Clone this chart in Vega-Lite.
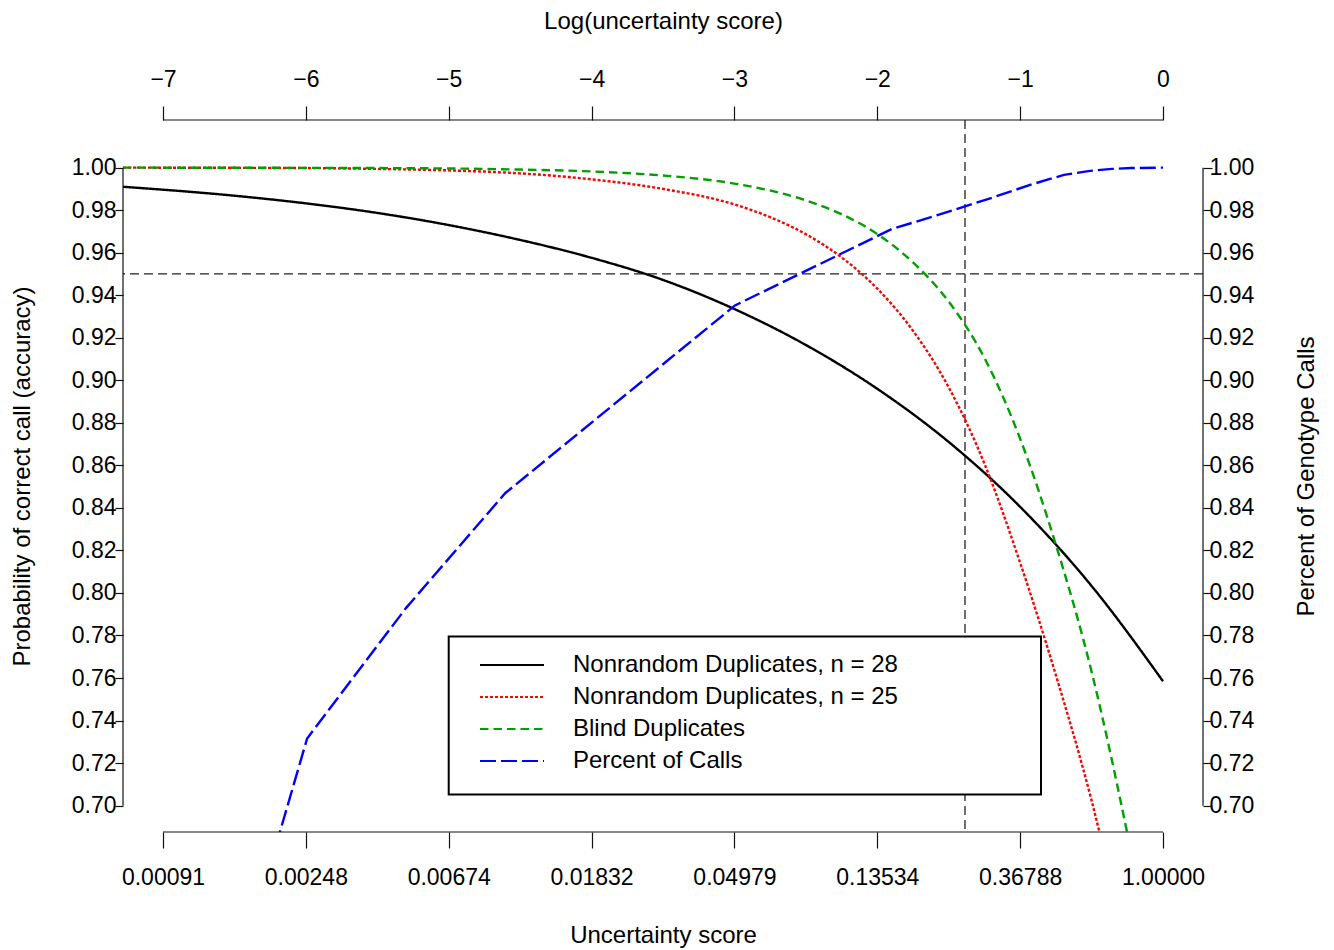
{
  "$schema": "https://vega.github.io/schema/vega-lite/v6.json",
  "width": 1080,
  "height": 712,
  "autosize": {"type": "none"},
  "padding": {"left": 123, "top": 120, "right": 131, "bottom": 118},
  "background": "white",
  "config": {
    "font": "Liberation Sans",
    "view": {"stroke": null},
    "axis": {
      "grid": false,
      "domain": false,
      "labelFont": "Liberation Sans",
      "titleFont": "Liberation Sans",
      "labelFontSize": 23,
      "titleFontSize": 24,
      "titleFontWeight": "normal",
      "labelColor": "black",
      "titleColor": "black",
      "tickColor": "#111",
      "tickWidth": 1.2,
      "labelFlush": false,
      "labelOverlap": false
    }
  },
  "datasets": {
    "curves": [
      {"series": "Nonrandom Duplicates, n = 28", "L": -7.28, "v": 0.991},
      {"series": "Nonrandom Duplicates, n = 28", "L": -6.5, "v": 0.9868},
      {"series": "Nonrandom Duplicates, n = 28", "L": -6.0, "v": 0.9832},
      {"series": "Nonrandom Duplicates, n = 28", "L": -5.5, "v": 0.9787},
      {"series": "Nonrandom Duplicates, n = 28", "L": -5.0, "v": 0.973},
      {"series": "Nonrandom Duplicates, n = 28", "L": -4.5, "v": 0.966},
      {"series": "Nonrandom Duplicates, n = 28", "L": -4.0, "v": 0.9576},
      {"series": "Nonrandom Duplicates, n = 28", "L": -3.5, "v": 0.9472},
      {"series": "Nonrandom Duplicates, n = 28", "L": -3.0, "v": 0.9335},
      {"series": "Nonrandom Duplicates, n = 28", "L": -2.5, "v": 0.9166},
      {"series": "Nonrandom Duplicates, n = 28", "L": -2.0, "v": 0.896},
      {"series": "Nonrandom Duplicates, n = 28", "L": -1.5, "v": 0.871},
      {"series": "Nonrandom Duplicates, n = 28", "L": -1.0, "v": 0.8405},
      {"series": "Nonrandom Duplicates, n = 28", "L": -0.5, "v": 0.8033},
      {"series": "Nonrandom Duplicates, n = 28", "L": 0.0, "v": 0.7585},
      {"series": "Nonrandom Duplicates, n = 25", "L": -7.28, "v": 1.0},
      {"series": "Nonrandom Duplicates, n = 25", "L": -6.0, "v": 0.9998},
      {"series": "Nonrandom Duplicates, n = 25", "L": -5.5, "v": 0.9994},
      {"series": "Nonrandom Duplicates, n = 25", "L": -5.0, "v": 0.9987},
      {"series": "Nonrandom Duplicates, n = 25", "L": -4.5, "v": 0.9973},
      {"series": "Nonrandom Duplicates, n = 25", "L": -4.0, "v": 0.9945},
      {"series": "Nonrandom Duplicates, n = 25", "L": -3.5, "v": 0.99},
      {"series": "Nonrandom Duplicates, n = 25", "L": -3.0, "v": 0.9827},
      {"series": "Nonrandom Duplicates, n = 25", "L": -2.75, "v": 0.9767},
      {"series": "Nonrandom Duplicates, n = 25", "L": -2.5, "v": 0.9687},
      {"series": "Nonrandom Duplicates, n = 25", "L": -2.25, "v": 0.9578},
      {"series": "Nonrandom Duplicates, n = 25", "L": -2.0, "v": 0.9431},
      {"series": "Nonrandom Duplicates, n = 25", "L": -1.75, "v": 0.9233},
      {"series": "Nonrandom Duplicates, n = 25", "L": -1.5, "v": 0.8967},
      {"series": "Nonrandom Duplicates, n = 25", "L": -1.25, "v": 0.8608},
      {"series": "Nonrandom Duplicates, n = 25", "L": -1.0, "v": 0.8142},
      {"series": "Nonrandom Duplicates, n = 25", "L": -0.75, "v": 0.7614},
      {"series": "Nonrandom Duplicates, n = 25", "L": -0.5, "v": 0.7024},
      {"series": "Nonrandom Duplicates, n = 25", "L": -0.25, "v": 0.6303},
      {"series": "Blind Duplicates", "L": -7.28, "v": 1.0},
      {"series": "Blind Duplicates", "L": -5.5, "v": 0.9998},
      {"series": "Blind Duplicates", "L": -5.0, "v": 0.9996},
      {"series": "Blind Duplicates", "L": -4.5, "v": 0.9991},
      {"series": "Blind Duplicates", "L": -4.0, "v": 0.9982},
      {"series": "Blind Duplicates", "L": -3.5, "v": 0.9963},
      {"series": "Blind Duplicates", "L": -3.0, "v": 0.9925},
      {"series": "Blind Duplicates", "L": -2.5, "v": 0.9846},
      {"series": "Blind Duplicates", "L": -2.25, "v": 0.9781},
      {"series": "Blind Duplicates", "L": -2.0, "v": 0.9688},
      {"series": "Blind Duplicates", "L": -1.75, "v": 0.9554},
      {"series": "Blind Duplicates", "L": -1.5, "v": 0.937},
      {"series": "Blind Duplicates", "L": -1.25, "v": 0.9105},
      {"series": "Blind Duplicates", "L": -1.0, "v": 0.8725},
      {"series": "Blind Duplicates", "L": -0.75, "v": 0.8227},
      {"series": "Blind Duplicates", "L": -0.5, "v": 0.763},
      {"series": "Blind Duplicates", "L": -0.25, "v": 0.687},
      {"series": "Blind Duplicates", "L": 0.0, "v": 0.6},
      {"series": "Percent of Calls", "L": -6.908, "v": 0.52},
      {"series": "Percent of Calls", "L": -5.991, "v": 0.7316},
      {"series": "Percent of Calls", "L": -5.298, "v": 0.793},
      {"series": "Percent of Calls", "L": -4.605, "v": 0.8469},
      {"series": "Percent of Calls", "L": -2.996, "v": 0.9352},
      {"series": "Percent of Calls", "L": -1.897, "v": 0.9712},
      {"series": "Percent of Calls", "L": -1.609, "v": 0.977},
      {"series": "Percent of Calls", "L": -1.386, "v": 0.9818},
      {"series": "Percent of Calls", "L": -1.204, "v": 0.9857},
      {"series": "Percent of Calls", "L": -0.916, "v": 0.9922},
      {"series": "Percent of Calls", "L": -0.693, "v": 0.9966},
      {"series": "Percent of Calls", "L": -0.511, "v": 0.9985},
      {"series": "Percent of Calls", "L": -0.357, "v": 0.9994},
      {"series": "Percent of Calls", "L": -0.223, "v": 0.9998},
      {"series": "Percent of Calls", "L": 0.0, "v": 1.0}
    ],
    "vref": [{"L": -1.386}],
    "href": [{"v": 0.95}],
    "box": [{"L": -5.0, "L2": -0.854, "v": 0.7052, "v2": 0.7795}],
    "hframe": [
      {"x0": -7, "x1": 0, "y0": 1.0224},
      {"x0": -7, "x1": 0, "y0": 0.6876}
    ],
    "vframe": [
      {"x0": -7.28, "y0": 0.7, "y1": 1.0},
      {"x0": 0.28, "y0": 0.7, "y1": 1.0}
    ]
  },
  "layer": [
    {
      "data": {"name": "href"},
      "mark": {"type": "rule", "color": "#222", "strokeWidth": 1.3, "strokeDash": [9, 5]},
      "encoding": {
        "y": {"field": "v", "type": "quantitative", "scale": {"domain": [0.6876, 1.0224], "nice": false, "zero": false}, "axis": null}
      }
    },
    {
      "data": {"name": "vref"},
      "mark": {"type": "rule", "color": "#222", "strokeWidth": 1.3, "strokeDash": [9, 5]},
      "encoding": {
        "x": {"field": "L", "type": "quantitative", "scale": {"domain": [-7.28, 0.28], "nice": false, "zero": false}, "axis": null}
      }
    },
    {
      "data": {"name": "box"},
      "mark": {"type": "rect", "fill": "white", "stroke": "black", "strokeWidth": 2},
      "encoding": {
        "x": {"field": "L", "type": "quantitative", "scale": {"domain": [-7.28, 0.28], "nice": false, "zero": false}, "axis": null},
        "x2": {"field": "L2"},
        "y": {"field": "v", "type": "quantitative", "scale": {"domain": [0.6876, 1.0224], "nice": false, "zero": false}, "axis": null},
        "y2": {"field": "v2"}
      }
    },
    {
      "data": {"name": "curves"},
      "transform": [{"filter": "datum.series !== 'Percent of Calls'"}],
      "mark": {"type": "line", "clip": true, "strokeWidth": 2.4, "interpolate": "monotone"},
      "encoding": {
        "x": {
          "field": "L", "type": "quantitative",
          "scale": {"domain": [-7.28, 0.28], "nice": false, "zero": false},
          "axis": {
            "orient": "bottom",
            "values": [-7, -6, -5, -4, -3, -2, -1, 0],
            "labelExpr": "format(exp(datum.value), '.5f')",
            "tickSize": 16,
            "labelPadding": 18,
            "title": "Uncertainty score",
            "titleY": 110,
            "titleBaseline": "alphabetic"
          }
        },
        "y": {
          "field": "v", "type": "quantitative",
          "scale": {"domain": [0.6876, 1.0224], "nice": false, "zero": false},
          "axis": {
            "orient": "left",
            "values": [0.7, 0.72, 0.74, 0.76, 0.78, 0.8, 0.82, 0.84, 0.86, 0.88, 0.9, 0.92, 0.94, 0.96, 0.98, 1.0],
            "format": ".2f",
            "tickSize": 8,
            "labelPadding": -1,
            "title": "Probability of correct call (accuracy)",
            "titleAngle": -90,
            "titleX": -94,
            "titleBaseline": "alphabetic"
          }
        },
        "color": {
          "field": "series", "type": "nominal",
          "scale": {
            "domain": ["Nonrandom Duplicates, n = 28", "Nonrandom Duplicates, n = 25", "Blind Duplicates", "Percent of Calls"],
            "range": ["black", "#FF0000", "#00A000", "#0000FF"]
          },
          "legend": {
            "title": null, "orient": "none", "legendX": 356, "legendY": 529,
            "symbolType": "stroke", "symbolSize": 4096, "symbolStrokeWidth": 2,
            "labelFontSize": 24, "labelFont": "Liberation Sans", "labelColor": "black",
            "labelOffset": 28, "labelLimit": 0, "rowPadding": 0, "padding": 0, "clipHeight": 32
          }
        },
        "strokeDash": {
          "field": "series", "type": "nominal",
          "scale": {
            "domain": ["Nonrandom Duplicates, n = 28", "Nonrandom Duplicates, n = 25", "Blind Duplicates", "Percent of Calls"],
            "range": [[1, 0], [3, 2], [8.5, 5], [16, 5]]
          },
          "legend": {
            "title": null, "orient": "none", "legendX": 356, "legendY": 529,
            "symbolType": "stroke", "symbolSize": 4096, "symbolStrokeWidth": 2,
            "labelFontSize": 24, "labelFont": "Liberation Sans", "labelColor": "black",
            "labelOffset": 28, "labelLimit": 0, "rowPadding": 0, "padding": 0, "clipHeight": 32
          }
        }
      }
    },
    {
      "data": {"name": "curves"},
      "transform": [{"filter": "datum.series === 'Percent of Calls'"}],
      "mark": {"type": "line", "clip": true, "strokeWidth": 2.4},
      "encoding": {
        "x": {"field": "L", "type": "quantitative", "scale": {"domain": [-7.28, 0.28], "nice": false, "zero": false}, "axis": null},
        "y": {"field": "v", "type": "quantitative", "scale": {"domain": [0.6876, 1.0224], "nice": false, "zero": false}, "axis": null},
        "color": {"field": "series", "type": "nominal"},
        "strokeDash": {"field": "series", "type": "nominal"}
      }
    },
    {
      "data": {"name": "hframe"},
      "mark": {"type": "rule", "color": "#111", "strokeWidth": 1.2},
      "encoding": {
        "x": {
          "field": "x0", "type": "quantitative",
          "scale": {"domain": [-7.28, 0.28], "nice": false, "zero": false},
          "axis": {
            "orient": "top",
            "values": [-7, -6, -5, -4, -3, -2, -1, 0],
            "labelExpr": "datum.value < 0 ? '−' + (-datum.value) : '0'",
            "tickSize": 14,
            "labelPadding": 15,
            "title": "Log(uncertainty score)",
            "titleY": -92,
            "titleBaseline": "alphabetic"
          }
        },
        "x2": {"field": "x1"},
        "y": {"field": "y0", "type": "quantitative", "scale": {"domain": [0.6876, 1.0224], "nice": false, "zero": false}, "axis": null}
      }
    },
    {
      "data": {"name": "vframe"},
      "mark": {"type": "rule", "color": "#111", "strokeWidth": 1.2},
      "encoding": {
        "x": {"field": "x0", "type": "quantitative", "scale": {"domain": [-7.28, 0.28], "nice": false, "zero": false}, "axis": null},
        "y": {
          "field": "y0", "type": "quantitative",
          "scale": {"domain": [0.6876, 1.0224], "nice": false, "zero": false},
          "axis": {
            "orient": "right",
            "values": [0.7, 0.72, 0.74, 0.76, 0.78, 0.8, 0.82, 0.84, 0.86, 0.88, 0.9, 0.92, 0.94, 0.96, 0.98, 1.0],
            "format": ".2f",
            "tickSize": 9,
            "labelPadding": -3,
            "title": "Percent of Genotype Calls",
            "titleAngle": -90,
            "titleX": 110,
            "titleBaseline": "alphabetic"
          }
        },
        "y2": {"field": "y1"}
      }
    }
  ],
  "resolve": {"scale": {"x": "independent", "y": "independent"}}
}
